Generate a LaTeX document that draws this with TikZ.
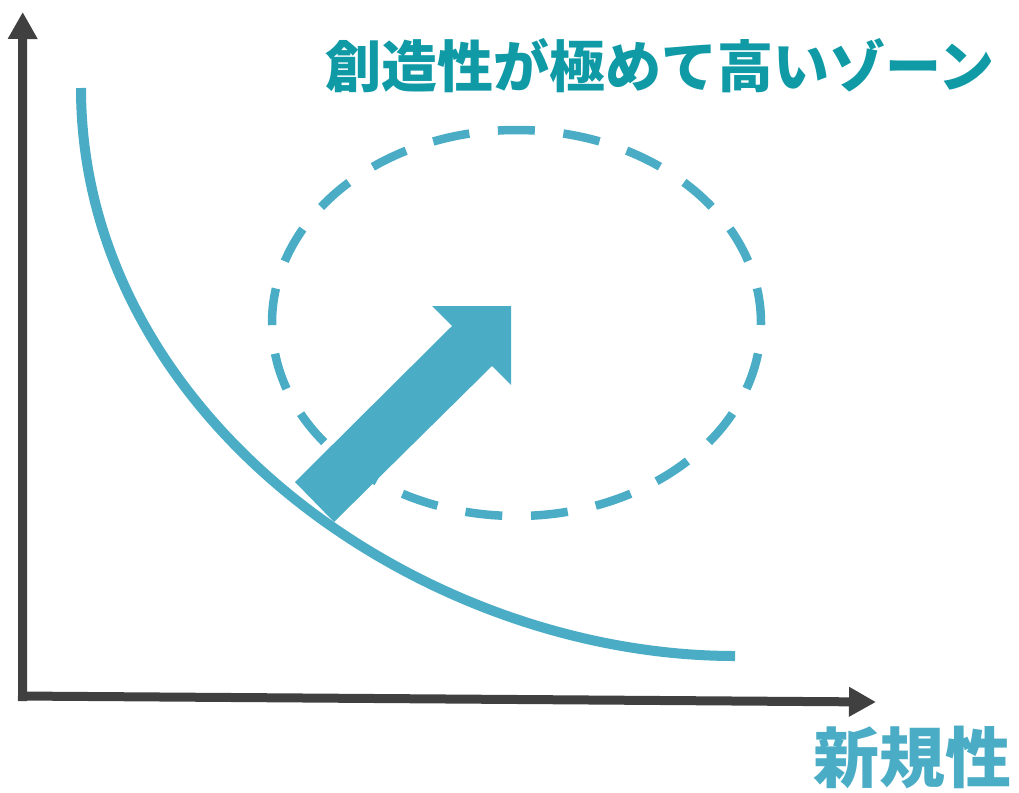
\documentclass[tikz,border=0pt]{standalone}
\usepackage{fontspec}
\newfontfamily\cjk{Noto Sans CJK JP}
\usetikzlibrary{arrows.meta}
\definecolor{aqua}{HTML}{4BACC6}
\definecolor{teal2}{HTML}{0F9AA6}
\definecolor{axisgray}{HTML}{404040}
\tikzset{
  axisline/.style={draw=axisgray, line width=9pt, -{Triangle[length=27pt,width=28pt]}},
  trendcurve/.style={draw=aqua, line width=10pt},
  zone/.style={draw=aqua, line width=8.5pt, dash pattern=on 37pt off 28.68pt, dash phase=35pt},
  bigarrow/.style={fill=aqua, draw=none},
  title/.style={text=teal2, font=\cjk\bfseries\fontsize{56}{62}\selectfont, inner sep=0pt},
  axislabel/.style={text=aqua, font=\cjk\bfseries\fontsize{66}{72}\selectfont, inner sep=0pt}
}
\begin{document}
\begin{tikzpicture}[x=1pt,y=-1pt]
\useasboundingbox (0,0) rectangle (1019,792);
% axes
\coordinate (ybot) at (22.5,701);
\coordinate (ytop) at (22.7,12);
\coordinate (xleft) at (18,696);
\coordinate (xright) at (876,702);
\draw[axisline] (ybot) -- (ytop);
\draw[axisline] (xleft) -- (xright);
% dashed zone
\coordinate (zc) at (516.5,323);
\draw[zone] (zc) ellipse [x radius=244.5, y radius=193];
% big arrow
\fill[bigarrow] (295,482) -- (452,326) -- (432,306) -- (511,306) -- (511,385) -- (492,366) -- (334,522) -- cycle;
% curve
\coordinate (cstart) at (81,88);
\coordinate (cend) at (735,656);
\draw[trendcurve] (cstart) .. controls (81,416) and (420,656) .. (cend);
% texts
\node[title] (t1) at (660,66) {創造性が極めて高いゾーン};
\node[axislabel] (t2) at (912,757) {新規性};
\end{tikzpicture}
\end{document}
